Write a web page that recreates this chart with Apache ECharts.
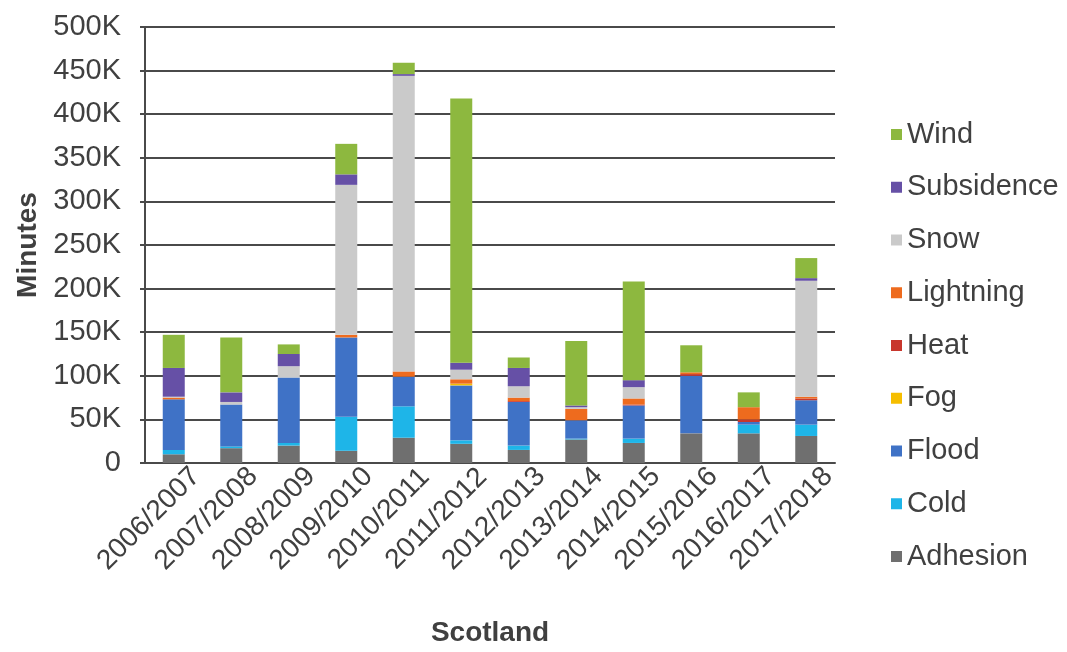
<!DOCTYPE html>
<html>
<head>
<meta charset="utf-8">
<script src="https://cdn.jsdelivr.net/npm/echarts@6/dist/echarts.min.js"></script>
<style>
  html, body { margin: 0; padding: 0; background: #fff; }
  #chart { width: 1067px; height: 652px; }
</style>
</head>
<body>
<div id="chart"></div>
<script>
// seasons on the x axis
var categories = ['2006/2007','2007/2008','2008/2009','2009/2010','2010/2011','2011/2012',
                  '2012/2013','2013/2014','2014/2015','2015/2016','2016/2017','2017/2018'];

// minutes lost per cause, stacked bottom to top
var adhesion   = [10000, 17000, 20000, 14000, 29000, 22000, 15000, 27000, 23000, 34000, 34000, 31000];
var cold       = [5000, 2000, 3000, 39000, 36000, 4000, 5000, 1000, 5000, 0, 10000, 13000];
var flood      = [58000, 48000, 75000, 91000, 34000, 63000, 50000, 21000, 38000, 66000, 3000, 28000];
var fog        = [0, 0, 0, 0, 0, 2000, 0, 0, 0, 0, 0, 0];
var heat       = [0, 0, 0, 0, 0, 0, 1000, 0, 1000, 2000, 3000, 2000];
var lightning  = [2000, 0, 0, 3000, 6000, 5000, 4000, 13000, 7000, 2000, 14000, 2000];
var snow       = [1000, 3000, 13000, 172000, 339000, 11000, 13000, 2000, 13000, 0, 0, 133000];
var subsidence = [33000, 11000, 14000, 12000, 2000, 8000, 21000, 2000, 8000, 0, 0, 3000];
var wind       = [38000, 63000, 11000, 35000, 13000, 303000, 12000, 74000, 113000, 31000, 17000, 23000];

var names  = ['Adhesion','Cold','Flood','Fog','Heat','Lightning','Snow','Subsidence','Wind'];
var values = [adhesion, cold, flood, fog, heat, lightning, snow, subsidence, wind];
var colors = ['#6f6f6f','#1eb5e8','#3f72c6','#f6be00','#c8372d','#ee6b1e','#cacaca','#6650a6','#8db83f'];

var font = 'Liberation Sans, Arial, sans-serif';
var chart = echarts.init(document.getElementById('chart'));

var series = names.map(function (n, i) {
  return {
    name: n,
    type: 'bar',
    stack: 'total',
    barWidth: 22,
    itemStyle: { color: colors[i] },
    data: values[i]
  };
});

chart.setOption({
  animation: false,
  textStyle: { fontFamily: font },
  grid: { left: 145, right: 232, top: 27, bottom: 185 },
  legend: {
    orient: 'vertical',
    left: 886,
    top: 113,
    itemWidth: 11,
    itemHeight: 11,
    itemGap: 19.75,
    icon: 'rect',
    data: names.slice().reverse(),
    textStyle: { fontSize: 29, color: '#404040', lineHeight: 33, fontFamily: font }
  },
  xAxis: {
    type: 'category',
    data: categories,
    name: 'Scotland',
    nameLocation: 'middle',
    nameGap: 156,
    nameTextStyle: { fontSize: 28, fontWeight: 'bold', color: '#404040' },
    axisLine: { lineStyle: { color: '#4a4a4a', width: 2 } },
    axisTick: { show: false },
    axisLabel: {
      interval: 0,
      rotate: 45,
      align: 'center',
      padding: [0, 70, 0, 0],
      margin: 31,
      fontSize: 28,
      color: '#404040'
    }
  },
  yAxis: {
    type: 'value',
    min: 0,
    max: 500000,
    interval: 50000,
    name: 'Minutes',
    nameLocation: 'middle',
    nameGap: 102,
    nameTextStyle: { fontSize: 28, fontWeight: 'bold', color: '#404040' },
    axisLine: { show: true, lineStyle: { color: '#4a4a4a', width: 2 } },
    axisTick: { show: true, length: 5, lineStyle: { color: '#4a4a4a', width: 2 } },
    splitLine: { lineStyle: { color: '#4a4a4a', width: 2 } },
    axisLabel: {
      margin: 24,
      fontSize: 29,
      color: '#404040',
      formatter: function (v) { return v === 0 ? '0' : (v / 1000) + 'K'; }
    }
  },
  series: series
});
</script>
</body>
</html>
